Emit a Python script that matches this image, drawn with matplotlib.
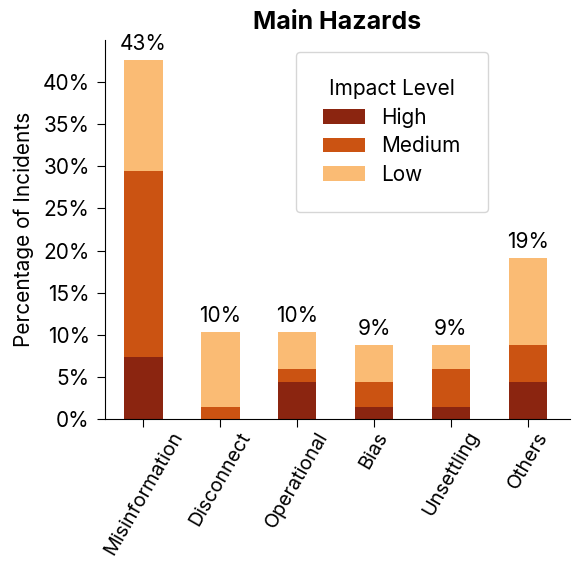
import numpy as np
import matplotlib.pyplot as plt

plt.rcParams['font.family'] = ['Inter', 'DejaVu Sans']

categories = ['Misinformation', 'Disconnect', 'Operational', 'Bias', 'Unsettling', 'Others']
levels = ['High', 'Medium', 'Low']
# share of incidents (%) per impact level
high = [7.35, 0.0, 4.41, 1.47, 1.47, 4.41]
medium = [22.06, 1.47, 1.47, 2.94, 4.41, 4.41]
low = [13.24, 8.82, 4.41, 4.41, 2.94, 10.29]
colors = ['#8B2510', '#CB5312', '#FABB74']

fig = plt.figure(figsize=(5.72, 5.61), dpi=100)
ax = fig.add_axes([0.1836, 0.2531, 0.813, 0.6756])

x = np.arange(len(categories))
bottom = np.zeros(len(categories))
for name, vals, c in zip(levels, [high, medium, low], colors):
    ax.bar(x, vals, width=0.5, bottom=bottom, color=c, label=name)
    bottom += np.array(vals)

for xi, tot in zip(x, bottom):
    ax.text(xi, tot + 0.7, f'{tot:.0f}%', ha='center', va='bottom', fontsize=15)

ax.set_xlim(-0.5, 5.55)
ax.set_ylim(0, 45)
ax.set_yticks(np.arange(0, 45, 5))
ax.set_yticklabels([f'{v}%' for v in range(0, 45, 5)], fontsize=15)
ax.set_xticks(x)
ax.set_xticklabels(categories, rotation=60, ha='center', fontsize=14.2)
ax.tick_params(axis='y', length=6, pad=5)
ax.tick_params(axis='x', length=6, pad=1)
ax.set_ylabel('Percentage of Incidents', fontsize=15, labelpad=6)
ax.set_title('Main Hazards', fontsize=18, fontweight='bold', pad=8)
ax.spines['top'].set_visible(False)
ax.spines['right'].set_visible(False)

leg = ax.legend(title='Impact Level', loc='upper right', bbox_to_anchor=(0.823, 0.968),
                borderaxespad=0, fontsize=15, title_fontsize=15, borderpad=1.3,
                handlelength=2.0, handleheight=0.7, handletextpad=0.8, labelspacing=0.4)
leg.get_frame().set_edgecolor('#cccccc')

fig.savefig('out.png', dpi=100)
